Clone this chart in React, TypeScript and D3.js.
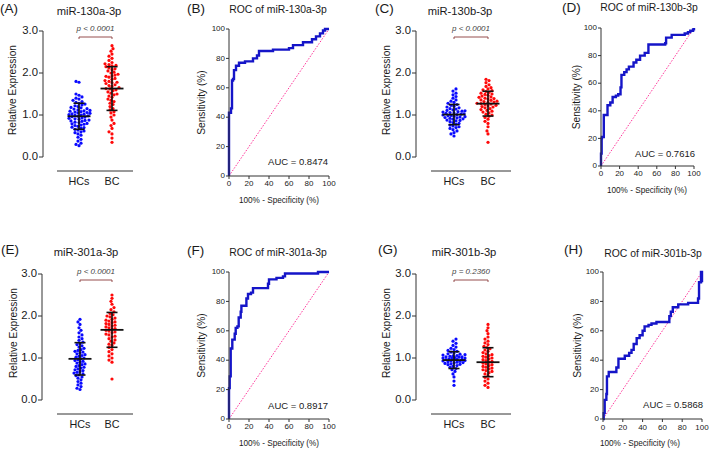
import React from "react";
import * as d3 from "d3";

// ---------- DATA ----------
const groupNames = ["HCs", "BC"];
const yTicks = [0, 1, 2, 3];
const rocTicks = [0, 20, 40, 60, 80, 100];

const a_hcs = [0.27,0.30,0.33,0.38,0.42,0.47,0.52,0.55,0.58,0.60,0.62,0.64,0.66,0.68,0.70,0.71,0.73,0.75,0.76,0.78,0.79,0.80,0.82,0.83,0.85,0.86,0.87,0.88,0.90,0.91,0.92,0.93,0.95,0.96,0.97,0.98,0.99,1.00,1.01,1.02,1.03,1.04,1.05,1.06,1.07,1.08,1.09,1.10,1.11,1.12,1.14,1.15,1.17,1.18,1.20,1.22,1.24,1.26,1.28,1.30,1.32,1.35,1.38,1.40,1.43,1.47,1.50,1.78,1.80];
const a_bc = [0.35,0.45,0.55,0.60,0.68,0.75,0.80,0.88,0.95,1.00,1.05,1.08,1.12,1.15,1.20,1.25,1.28,1.32,1.35,1.38,1.42,1.45,1.48,1.50,1.52,1.55,1.58,1.60,1.62,1.63,1.65,1.68,1.70,1.72,1.75,1.77,1.78,1.80,1.82,1.85,1.87,1.90,1.92,1.93,1.95,1.97,2.00,2.02,2.05,2.08,2.10,2.12,2.15,2.17,2.18,2.20,2.22,2.25,2.30,2.35,2.40,2.45,2.52,2.58,2.65];
const c_hcs = [0.50,0.55,0.58,0.62,0.65,0.68,0.70,0.72,0.74,0.76,0.78,0.80,0.82,0.84,0.86,0.87,0.88,0.90,0.91,0.92,0.93,0.94,0.95,0.96,0.97,0.98,0.99,1.00,1.01,1.02,1.03,1.04,1.05,1.06,1.07,1.08,1.09,1.10,1.11,1.12,1.14,1.15,1.17,1.19,1.21,1.23,1.25,1.28,1.30,1.33,1.36,1.40,1.44,1.48,1.52,1.57,1.62];
const c_bc = [0.35,0.55,0.62,0.72,0.80,0.85,0.90,0.94,0.97,1.00,1.02,1.05,1.07,1.09,1.11,1.13,1.15,1.17,1.19,1.20,1.22,1.23,1.25,1.26,1.27,1.28,1.30,1.31,1.32,1.33,1.35,1.36,1.38,1.39,1.40,1.42,1.43,1.45,1.47,1.49,1.50,1.52,1.54,1.56,1.58,1.60,1.62,1.65,1.68,1.72,1.77,1.82,1.85];
const e_hcs = [0.25,0.28,0.32,0.36,0.40,0.44,0.48,0.52,0.55,0.58,0.60,0.62,0.64,0.66,0.68,0.70,0.72,0.74,0.76,0.78,0.80,0.82,0.84,0.86,0.88,0.90,0.92,0.94,0.96,0.98,1.00,1.02,1.04,1.06,1.08,1.10,1.12,1.14,1.16,1.18,1.20,1.23,1.26,1.29,1.32,1.35,1.38,1.42,1.46,1.50,1.55,1.60,1.66,1.72,1.80,1.86,1.92];
const e_bc = [0.50,0.90,0.95,1.00,1.05,1.10,1.15,1.20,1.25,1.30,1.33,1.36,1.40,1.43,1.46,1.50,1.52,1.55,1.57,1.60,1.62,1.64,1.66,1.68,1.70,1.72,1.74,1.76,1.78,1.80,1.82,1.84,1.86,1.88,1.90,1.92,1.95,1.98,2.00,2.03,2.06,2.10,2.15,2.20,2.28,2.35,2.42,2.50];
const g_hcs = [0.35,0.45,0.55,0.62,0.68,0.72,0.75,0.78,0.80,0.82,0.84,0.85,0.86,0.87,0.88,0.89,0.90,0.91,0.92,0.93,0.93,0.94,0.95,0.96,0.97,0.97,0.98,0.99,1.00,1.00,1.01,1.02,1.03,1.03,1.04,1.05,1.06,1.07,1.08,1.09,1.10,1.12,1.14,1.16,1.18,1.20,1.23,1.26,1.30,1.35,1.40,1.45];
const g_bc = [0.30,0.35,0.40,0.45,0.50,0.54,0.58,0.62,0.65,0.68,0.70,0.72,0.74,0.76,0.78,0.80,0.82,0.84,0.86,0.88,0.90,0.92,0.94,0.96,0.98,1.00,1.02,1.04,1.06,1.08,1.10,1.13,1.16,1.19,1.22,1.25,1.28,1.32,1.36,1.40,1.45,1.50,1.58,1.65,1.72,1.80];

// mean and SD, [HCs, BC]
const a_mean = [0.97, 1.63];
const a_sd = [0.31, 0.52];
const c_mean = [1.01, 1.27];
const c_sd = [0.24, 0.295];
const e_mean = [0.98, 1.67];
const e_sd = [0.385, 0.415];
const g_mean = [0.95, 0.90];
const g_sd = [0.20, 0.345];

const pTexts = ["p < 0.0001", "p < 0.0001", "p < 0.0001", "p = 0.2360"];
const scatterTitles = ["miR-130a-3p", "miR-130b-3p", "miR-301a-3p", "miR-301b-3p"];
const rocTitles = ["ROC of miR-130a-3p", "ROC of miR-130b-3p", "ROC of miR-301a-3p", "ROC of miR-301b-3p"];
const aucValues = ["0.8474", "0.7616", "0.8917", "0.5868"];

// ROC points [100% - specificity, sensitivity]
const roc_b: [number, number][] = [[0,0],[0,43],[2,46],[3,65],[4,66],[5,72],[7,75],[10,77],[16,78],[24,80],[28,82],[30,85],[44,86],[60,87],[64,89],[74,91],[83,93],[87,95],[91,97],[94,99],[96,100],[100,100]];
const roc_d: [number, number][] = [[0,0],[0,9],[0.7,20],[1,21],[3,37],[7,44],[10,46],[12.5,50],[16,51],[18.5,52],[21,57],[22,66],[25,68],[27.5,70],[30,72],[35,75],[38,77],[42,80],[47,82],[51,88],[69,89],[70,93],[76,95],[90,96],[93.5,97],[96,98],[99,99],[100,100]];
const roc_f: [number, number][] = [[0,0],[0,21],[0.7,29],[1.7,48],[3.3,54],[5.7,58],[6.7,62],[8.4,63],[9.7,69],[11.7,73],[12.4,77],[17.4,82],[19,85],[22,86],[24,89],[39,92],[40,95],[47.5,96],[54,97],[56,99],[89,100],[100,100]];
const roc_h: [number, number][] = [[0,0],[0.7,4],[1.7,13],[3.4,17],[4,29],[5.8,32],[13.5,35],[15.6,41],[22,43],[26.4,45],[28.8,47],[31,51],[34,55],[37,57],[40,60],[42,63],[46,64],[49,65],[54,66],[67,70],[68.5,73],[70.5,76],[76,78],[86,79],[96,82],[97,93],[99,100],[100,93],[100,100]];

// ---------- STYLE ----------
const FONT = "'Liberation Sans', Arial, Helvetica, sans-serif";
const AXIS = "#333";
const TXT = "#1a1a1a";
const DOT_R = 1.6;

function swarm(vals: number[], y: (v: number) => number, r: number, maxW: number) {
  const sorted = [...vals].sort((a, b) => a - b);
  const placed: { dx: number; py: number }[] = [];
  const minD = r * 2 * 0.95;
  for (const v of sorted) {
    const py = y(v);
    let best = 0, bestScore = -Infinity;
    for (let k = 0; k <= 2 * maxW; k++) {
      const dx = (k % 2 === 0 ? 1 : -1) * Math.ceil(k / 2);
      if (Math.abs(dx) > maxW) continue;
      let md = Infinity;
      for (const p of placed) {
        const d = Math.hypot(p.dx - dx, p.py - py);
        if (d < md) md = d;
      }
      if (md >= minD) { best = dx; bestScore = Infinity; break; }
      if (md > bestScore) { bestScore = md; best = dx; }
    }
    placed.push({ dx: best, py });
  }
  return placed;
}

type ScatterProps = {
  axisX: number; y3: number; y0: number; lineY: number; lineX0: number; lineX1: number;
  cx: number[]; title: string; titleX: number; titleY: number; label: string; labelX: number; labelY: number;
  yLabelX: number; data: number[][]; mean: number[]; sd: number[]; pText: string;
};

function Scatter(p: ScatterProps) {
  const y = d3.scaleLinear().domain([0, 3]).range([p.y0, p.y3]);
  const colors = ["#0a0aff", "#ff0a0a"];
  const mid = (p.cx[0] + p.cx[1]) / 2;
  const bY = p.y3 + 6;
  return (
    <g fontFamily={FONT}>
      <text x={p.labelX} y={p.labelY} fontSize={13.5} fill={TXT} dominantBaseline="middle">{p.label}</text>
      <text x={p.titleX} y={p.titleY} fontSize={11.2} fill={TXT} textAnchor="middle" dominantBaseline="middle">{p.title}</text>
      <line x1={p.axisX} x2={p.axisX} y1={p.y3} y2={p.y0} stroke={AXIS} strokeWidth={1} />
      {yTicks.map((t) => (
        <g key={t}>
          <line x1={p.axisX - 4} x2={p.axisX} y1={y(t)} y2={y(t)} stroke={AXIS} />
          <text x={p.axisX - 5} y={y(t)} fontSize={11.3} fill={TXT} textAnchor="end" dominantBaseline="middle">{t.toFixed(1)}</text>
        </g>
      ))}
      <text transform={`translate(${p.yLabelX},${(p.y3 + p.y0) / 2 - 4}) rotate(-90)`} fontSize={10.2} fill={TXT} textAnchor="middle" dominantBaseline="middle">Relative Expression</text>
      <line x1={p.lineX0} x2={p.lineX1} y1={p.lineY} y2={p.lineY} stroke={AXIS} />
      {groupNames.map((g, i) => (
        <text key={g} x={p.cx[i]} y={p.lineY + 11} fontSize={10.8} fill={TXT} textAnchor="middle" dominantBaseline="middle">{g}</text>
      ))}
      {p.data.map((vals, i) => {
        const pts = swarm(vals, y, DOT_R, 11);
        return (
          <g key={i}>
            {pts.map((q, j) => (
              <circle key={j} cx={p.cx[i] + q.dx} cy={q.py} r={DOT_R} fill={colors[i]} />
            ))}
          </g>
        );
      })}
      {p.mean.map((m, i) => {
        const c = p.cx[i];
        const hi = y(m + p.sd[i]);
        const lo = y(m - p.sd[i]);
        return (
          <g key={i} stroke="#111" strokeWidth={1.6}>
            <line x1={c - 11.5} x2={c + 11.5} y1={y(m)} y2={y(m)} strokeWidth={1.8} />
            <line x1={c} x2={c} y1={hi} y2={lo} />
            <line x1={c - 5.5} x2={c + 5.5} y1={hi} y2={hi} />
            <line x1={c - 5.5} x2={c + 5.5} y1={lo} y2={lo} />
          </g>
        );
      })}
      <path d={`M${p.cx[0]},${bY + 2}V${bY}H${p.cx[1]}V${bY + 2}`} fill="none" stroke="#8b3a3a" strokeWidth={0.9} />
      <text x={mid} y={p.y3 - 2} fontSize={8} fontStyle="italic" fill="#444" textAnchor="middle" dominantBaseline="middle">{p.pText}</text>
    </g>
  );
}

type RocProps = {
  left: number; right: number; top: number; bottom: number; title: string; titleX: number; titleY: number;
  label: string; labelX: number; labelY: number; yLabelX: number; tickY: number; xTitleX: number; xTitleY: number;
  aucX: number; aucY: number; auc: string; pts: [number, number][];
};

function Roc(p: RocProps) {
  const x = d3.scaleLinear().domain([0, 100]).range([p.left, p.right]);
  const y = d3.scaleLinear().domain([0, 100]).range([p.bottom, p.top]);
  const line = d3.line<[number, number]>().x((d) => x(d[0])).y((d) => y(d[1])).curve(d3.curveStepAfter);
  return (
    <g fontFamily={FONT}>
      <text x={p.labelX} y={p.labelY} fontSize={13.5} fill={TXT} dominantBaseline="middle">{p.label}</text>
      <text x={p.titleX} y={p.titleY} fontSize={10.4} fill={TXT} textAnchor="middle" dominantBaseline="middle">{p.title}</text>
      <line x1={x(0)} y1={y(0)} x2={x(100)} y2={y(100)} stroke="#ff3399" strokeWidth={1} strokeDasharray="1.5,1.5" />
      <path d={line(p.pts) || ""} fill="none" stroke="#1515c8" strokeWidth={2.4} strokeLinejoin="miter" />
      <line x1={p.left} x2={p.left} y1={p.top} y2={p.bottom} stroke={AXIS} />
      <line x1={p.left} x2={p.right} y1={p.bottom} y2={p.bottom} stroke={AXIS} />
      {rocTicks.map((t) => (
        <g key={t}>
          <line x1={p.left - 3} x2={p.left} y1={y(t)} y2={y(t)} stroke={AXIS} />
          <text x={p.left - 4} y={y(t)} fontSize={8} fill={TXT} textAnchor="end" dominantBaseline="middle">{t}</text>
          <line x1={x(t)} x2={x(t)} y1={p.bottom} y2={p.bottom + 3} stroke={AXIS} />
          <text x={x(t)} y={p.tickY} fontSize={8} fill={TXT} textAnchor="middle" dominantBaseline="middle">{t}</text>
        </g>
      ))}
      <text transform={`translate(${p.yLabelX},${(p.top + p.bottom) / 2}) rotate(-90)`} fontSize={10.2} fill={TXT} textAnchor="middle" dominantBaseline="middle">Sensitivity (%)</text>
      <text x={p.xTitleX} y={p.xTitleY} fontSize={8.2} fill={TXT} textAnchor="middle" dominantBaseline="middle">100% - Specificity (%)</text>
      <text x={p.aucX} y={p.aucY} fontSize={9.5} fill={TXT} textAnchor="end" dominantBaseline="middle">{`AUC = ${p.auc}`}</text>
    </g>
  );
}

export default function App() {
  return (
    <svg width={709} height={449} style={{ position: "absolute", left: 0, top: 0, background: "#fff" }}>
      <rect width={709} height={449} fill="#fff" />
      <Scatter axisX={43} y3={31} y0={157} lineY={171} lineX0={57} lineX1={133} cx={[79, 112]}
        title={scatterTitles[0]} titleX={89} titleY={12} label="(A)" labelX={0} labelY={9} yLabelX={13}
        data={[a_hcs, a_bc]} mean={a_mean} sd={a_sd} pText={pTexts[0]} />
      <Roc left={229} right={329} top={29} bottom={176} title={rocTitles[0]} titleX={278} titleY={10}
        label="(B)" labelX={187} labelY={9} yLabelX={202} tickY={184} xTitleX={279} xTitleY={201}
        aucX={328} aucY={162} auc={aucValues[0]} pts={roc_b} />
      <Scatter axisX={416} y3={31} y0={157} lineY={171} lineX0={431} lineX1={511} cx={[454, 488]}
        title={scatterTitles[1]} titleX={460} titleY={12} label="(C)" labelX={375} labelY={9} yLabelX={387}
        data={[c_hcs, c_bc]} mean={c_mean} sd={c_sd} pText={pTexts[1]} />
      <Roc left={601} right={694} top={28} bottom={166} title={rocTitles[1]} titleX={649} titleY={8}
        label="(D)" labelX={562} labelY={8} yLabelX={577} tickY={174} xTitleX={647} xTitleY={191}
        aucX={695} aucY={154} auc={aucValues[1]} pts={roc_d} />
      <Scatter axisX={42} y3={274} y0={400} lineY={414} lineX0={57} lineX1={133} cx={[80, 112]}
        title={scatterTitles[2]} titleX={86} titleY={253} label="(E)" labelX={1} labelY={250} yLabelX={14}
        data={[e_hcs, e_bc]} mean={e_mean} sd={e_sd} pText={pTexts[2]} />
      <Roc left={229} right={329} top={272} bottom={419} title={rocTitles[2]} titleX={278} titleY={253}
        label="(F)" labelX={187} labelY={251} yLabelX={202} tickY={427} xTitleX={279} xTitleY={444}
        aucX={328} aucY={406} auc={aucValues[2]} pts={roc_f} />
      <Scatter axisX={416} y3={274} y0={400} lineY={414} lineX0={431} lineX1={511} cx={[454, 488]}
        title={scatterTitles[3]} titleX={464} titleY={253} label="(G)" labelX={378} labelY={250} yLabelX={387}
        data={[g_hcs, g_bc]} mean={g_mean} sd={g_sd} pText={pTexts[3]} />
      <Roc left={603} right={702} top={272} bottom={419} title={rocTitles[3]} titleX={653} titleY={254}
        label="(H)" labelX={564} labelY={250} yLabelX={578} tickY={428} xTitleX={640} xTitleY={444}
        aucX={703} aucY={405} auc={aucValues[3]} pts={roc_h} />
    </svg>
  );
}
